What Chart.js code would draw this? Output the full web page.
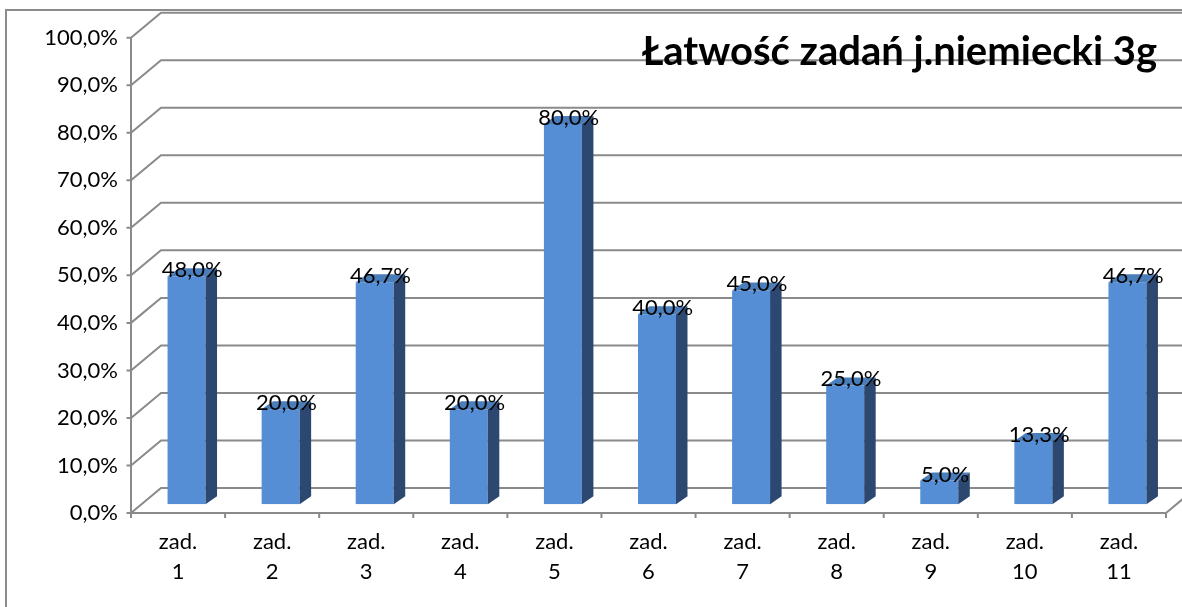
<!DOCTYPE html>
<html>
<head>
<meta charset="utf-8">
<script src="https://cdn.jsdelivr.net/npm/chart.js@4.4.0/dist/chart.umd.min.js"></script>
<style>
html,body{margin:0;padding:0;background:#ffffff;}
#wrap{width:1182px;height:607px;position:relative;overflow:hidden;}
</style>
</head>
<body>
<div id="wrap"><canvas id="c" width="1182" height="607"></canvas></div>
<script>
// ---- data ----
const categories = [["zad.","1"],["zad.","2"],["zad.","3"],["zad.","4"],["zad.","5"],["zad.","6"],["zad.","7"],["zad.","8"],["zad.","9"],["zad.","10"],["zad.","11"]];
const values = [48.0, 20.0, 46.7, 20.0, 80.0, 40.0, 45.0, 25.0, 5.0, 13.3, 46.7];
const yTickValues = [0, 10, 20, 30, 40, 50, 60, 70, 80, 90, 100];
const chartTitle = "Łatwość zadań j.niemiecki 3g";

const fmt = v => v.toFixed(1).replace('.', ',') + '%';

// ---- 3D geometry (offsets relative to the bar plane) ----
const FRONT = {dx: -8.5, dy: 8.7};
const WALL = {dx: 30, dy: -25};
const BAR_DEPTH = {dx: 11.5, dy: -8};
const GRID_COLOR = '#8a8a8a';
const FONT = 'Lato, "Open Sans", sans-serif';

const frame3d = {
  id: 'frame3d',
  beforeDatasetsDraw(chart) {
    const {ctx, scales: {x, y}} = chart;
    ctx.save();
    // outer border
    ctx.strokeStyle = '#8c8c8c';
    ctx.lineWidth = 2;
    ctx.strokeRect(6, 10, 1400, 800);

    ctx.strokeStyle = GRID_COLOR;
    ctx.lineWidth = 2;
    const fx = x.left + FRONT.dx;
    const fxr = x.right + FRONT.dx;
    ctx.beginPath();
    yTickValues.forEach(v => {
      const yf = y.getPixelForValue(v) + FRONT.dy;
      ctx.moveTo(fx - 4.5, yf);
      ctx.lineTo(fx, yf);
      ctx.lineTo(fx + WALL.dx, yf + WALL.dy);
      ctx.lineTo(chart.width + 60, yf + WALL.dy);
    });
    const yTop = y.getPixelForValue(100) + FRONT.dy;
    const y0 = y.getPixelForValue(0) + FRONT.dy;
    ctx.moveTo(fx, yTop);
    ctx.lineTo(fx, y0);
    // floor
    ctx.moveTo(fx, y0);
    ctx.lineTo(fxr, y0);
    ctx.lineTo(fxr + WALL.dx, y0 + WALL.dy);
    const n = categories.length;
    const cw = (x.right - x.left) / n;
    for (let i = 0; i <= n; i++) {
      const bx = fx + i * cw;
      ctx.moveTo(bx, y0);
      ctx.lineTo(bx, y0 + 5);
    }
    ctx.stroke();
    ctx.restore();
  },
  afterDatasetsDraw(chart) {
    const {ctx} = chart;
    const meta = chart.getDatasetMeta(0);
    ctx.save();
    meta.data.forEach((bar, i) => {
      const p = bar.getProps(['x', 'y', 'base', 'width'], true);
      const l = p.x - p.width / 2, r = p.x + p.width / 2;
      // top face
      ctx.fillStyle = '#4a7ebb';
      ctx.beginPath();
      ctx.moveTo(l, p.y);
      ctx.lineTo(l + BAR_DEPTH.dx, p.y + BAR_DEPTH.dy);
      ctx.lineTo(r + BAR_DEPTH.dx, p.y + BAR_DEPTH.dy);
      ctx.lineTo(r, p.y);
      ctx.closePath();
      ctx.fill();
      // side face
      ctx.fillStyle = '#2c4870';
      ctx.beginPath();
      ctx.moveTo(r, p.y);
      ctx.lineTo(r + BAR_DEPTH.dx, p.y + BAR_DEPTH.dy);
      ctx.lineTo(r + BAR_DEPTH.dx, p.base + BAR_DEPTH.dy);
      ctx.lineTo(r, p.base);
      ctx.closePath();
      ctx.fill();
    });
    // value labels
    ctx.fillStyle = '#000';
    ctx.font = '22px ' + FONT;
    ctx.textAlign = 'center';
    ctx.textBaseline = 'alphabetic';
    meta.data.forEach((bar, i) => {
      const p = bar.getProps(['x', 'y'], true);
      ctx.fillText(fmt(values[i]), p.x + BAR_DEPTH.dx / 2, p.y + 1);
    });
    // title
    ctx.font = 'bold 40px ' + FONT;
    ctx.textAlign = 'center';
    ctx.fillText(chartTitle, 899.5, 65);
    ctx.restore();
  }
};

new Chart(document.getElementById('c'), {
  type: 'bar',
  data: {
    labels: categories,
    datasets: [{
      data: values,
      backgroundColor: '#558ed5',
      borderWidth: 0,
      barPercentage: 38 / 94.1,
      categoryPercentage: 1
    }]
  },
  options: {
    responsive: false,
    devicePixelRatio: 1,
    animation: false,
    layout: {padding: {left: 0, top: 29, right: 7.5, bottom: 0}},
    plugins: {legend: {display: false}, tooltip: {enabled: false}, title: {display: false}},
    scales: {
      x: {
        type: 'category',
        offset: true,
        grid: {display: false, drawTicks: false},
        border: {display: false},
        ticks: {
          color: '#000',
          font: {family: FONT, size: 22, lineHeight: '30px'},
          padding: 22.7,
          labelOffset: FRONT.dx,
          maxRotation: 0,
          autoSkip: false
        },
        afterFit: s => { s.height = 102.7; s.paddingLeft = 0; s.paddingRight = 0; }
      },
      y: {
        min: 0,
        max: 100,
        grid: {display: false, drawTicks: false},
        border: {display: false},
        afterBuildTicks: s => { s.ticks = yTickValues.map(v => ({value: v})); },
        ticks: {
          color: '#000',
          font: {family: FONT, size: 22},
          padding: 21.5,
          labelOffset: FRONT.dy,
          callback: v => fmt(v)
        },
        afterFit: s => { s.width = 139.5; s.paddingTop = 0; s.paddingBottom = 0; }
      }
    }
  },
  plugins: [frame3d]
});
</script>
</body>
</html>
